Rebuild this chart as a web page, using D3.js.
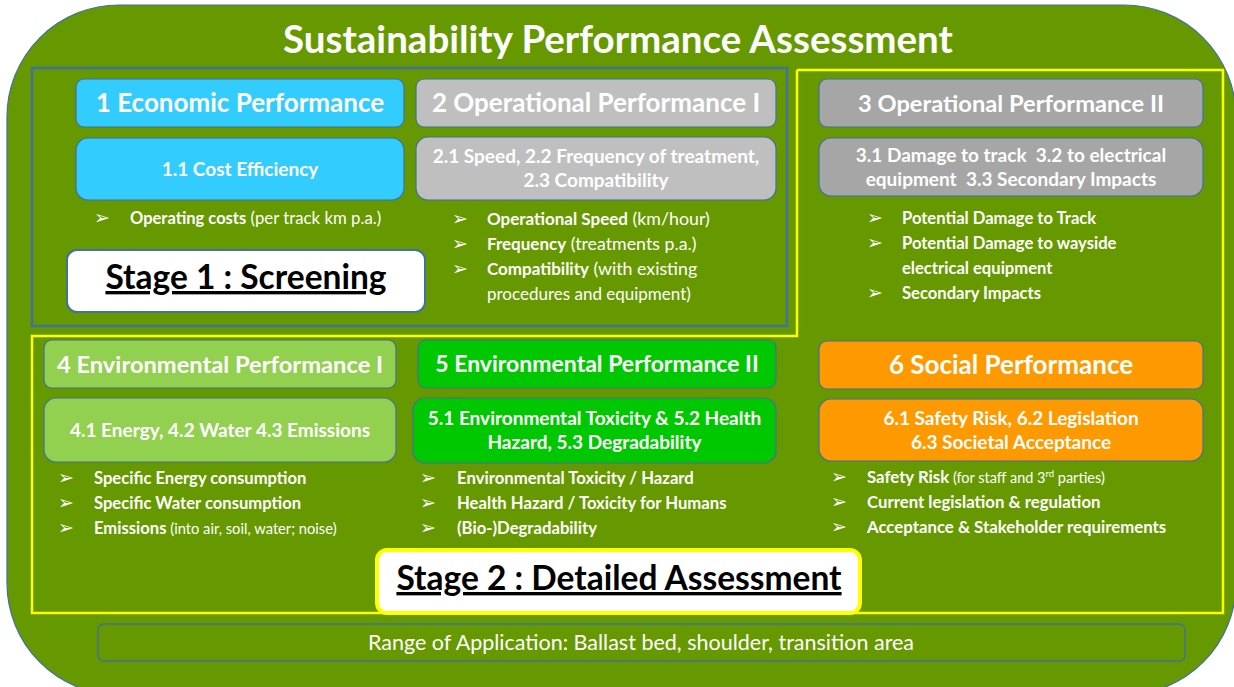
<!DOCTYPE html>
<html>
<head>
<meta charset="utf-8">
<script src="https://cdn.jsdelivr.net/npm/d3@7"></script>
<style>
  body { margin: 0; background: #fff; }
  svg text { font-family: Lato, "Open Sans", sans-serif; white-space: pre; }
</style>
</head>
<body>
<div id="diagram"></div>
<script>
var title = "Sustainability Performance Assessment";

var headers = ["1 Economic Performance", "2 Operational Performance I", "3 Operational Performance II",
               "4 Environmental Performance I", "5 Environmental Performance II", "6 Social Performance"];

var subtitles = [
  ["1.1 Cost Efficiency"],
  ["2.1 Speed, 2.2 Frequency of treatment,", "2.3 Compatibility"],
  ["3.1 Damage to track  3.2 to electrical", "equipment  3.3 Secondary Impacts"],
  ["4.1 Energy, 4.2 Water 4.3 Emissions"],
  ["5.1 Environmental Toxicity & 5.2 Health", "Hazard, 5.3 Degradability"],
  ["6.1 Safety Risk, 6.2 Legislation", "6.3 Societal Acceptance"]
];

// each bullet line: [bold part, normal part, superscript, normal after, continuation line?]
var bullets = [
  [["Operating costs", " (per track km p.a.)"]],
  [["Operational Speed", " (km/hour)"], ["Frequency", " (treatments p.a.)"],
   ["Compatibility", " (with existing"], ["", "procedures and equipment)", null, null, true]],
  [["Potential Damage to Track", ""], ["Potential Damage to wayside", ""],
   ["electrical equipment", "", null, null, true], ["Secondary Impacts", ""]],
  [["Specific Energy consumption", ""], ["Specific Water consumption", ""],
   ["Emissions", " (into air, soil, water; noise)"]],
  [["Environmental Toxicity / Hazard", ""], ["Health Hazard / Toxicity for Humans", ""],
   ["(Bio-)Degradability", ""]],
  [["Safety Risk", " (for staff and 3", "rd", " parties)"], ["Current legislation & regulation", ""],
   ["Acceptance & Stakeholder requirements", ""]]
];

var stages = ["Stage 1 : Screening", "Stage 2 : Detailed Assessment"];
var rangeText = "Range of Application: Ballast bed, shoulder, transition area";

var fills = ["#33ccff", "#bfbfbf", "#a6a6a6", "#92d050", "#00c800", "#ff9900"];

// layout of the six columns (header box, sub box, bullet block, font sizes)
var layout = [
  {x0: 76,  x1: 404, hy: 79,  sy: 138, sh: 62, by: 224, ax: 102, tx: 130, hfs: 26,   fs: 16.5, ps: 16.8},
  {x0: 416, x1: 776, hy: 79,  sy: 137, sh: 63, by: 225, ax: 460, tx: 487, hfs: 26,   fs: 17,   ps: 17.8},
  {x0: 819, x1: 1203, hy: 79, sy: 138, sh: 58, by: 224, ax: 875, tx: 902, hfs: 23.7, fs: 16.6, ps: 16.6},
  {x0: 44,  x1: 396, hy: 340, sy: 398, sh: 64, by: 484, ax: 66,  tx: 94,  hfs: 23.7, fs: 16.6, ps: 14.7},
  {x0: 418, x1: 776, hy: 340, sy: 398, sh: 65, by: 484, ax: 428, tx: 457, hfs: 23,   fs: 16.7, ps: 14.7, sx0: 413},
  {x0: 819, x1: 1203, hy: 341, sy: 399, sh: 62, by: 483, ax: 839, tx: 867, hfs: 26,   fs: 16.8, ps: 14.5}
];

var W = 1234, H = 687;
var svg = d3.select("#diagram").append("svg")
  .attr("width", W).attr("height", H);

var blue = "#41719c";

// outer rounded panel
svg.append("rect")
  .attr("x", 7).attr("y", 5).attr("width", 1229).attr("height", 690)
  .attr("rx", 112).attr("ry", 112)
  .attr("fill", "#669900").attr("stroke", blue).attr("stroke-width", 1.2);

svg.append("text")
  .attr("x", 618).attr("y", 53)
  .attr("text-anchor", "middle")
  .attr("fill", "#fff").attr("font-weight", "bold").attr("font-size", 38.5)
  .text(title);

// stage 1 frame (blue)
svg.append("rect")
  .attr("x", 32).attr("y", 68).attr("width", 755).attr("height", 258)
  .attr("fill", "none").attr("stroke", blue).attr("stroke-width", 2.5);

// stage 2 frame (yellow, L-shaped)
svg.append("path")
  .attr("d", d3.line()([[797, 70], [1223, 70], [1223, 613], [32, 613], [32, 336], [797, 336], [797, 70]]))
  .attr("fill", "none").attr("stroke", "#ffff00").attr("stroke-width", 2.5);

// boxes
layout.forEach(function(L, i) {
  var g = svg.append("g");
  g.append("rect")
    .attr("x", L.x0).attr("y", L.hy).attr("width", L.x1 - L.x0).attr("height", 48)
    .attr("rx", 8).attr("fill", fills[i]).attr("stroke", blue).attr("stroke-width", 1.2);
  g.append("text")
    .attr("x", (L.x0 + L.x1) / 2).attr("y", L.hy + 24 + L.hfs * 0.36)
    .attr("text-anchor", "middle").attr("fill", "#fff")
    .attr("font-weight", "bold").attr("font-size", L.hfs)
    .text(headers[i]);

  var sx0 = L.sx0 || L.x0;
  g.append("rect")
    .attr("x", sx0).attr("y", L.sy).attr("width", L.x1 - sx0).attr("height", L.sh)
    .attr("rx", 12).attr("fill", fills[i]).attr("stroke", blue).attr("stroke-width", 1.2);
  var lines = subtitles[i];
  var cy = L.sy + L.sh / 2;
  lines.forEach(function(t, j) {
    g.append("text")
      .attr("x", (sx0 + L.x1) / 2)
      .attr("y", cy + 6.5 + (j - (lines.length - 1) / 2) * 24)
      .attr("text-anchor", "middle").attr("fill", "#fff")
      .attr("font-weight", "bold").attr("font-size", 19)
      .text(t);
  });

  bullets[i].forEach(function(b, j) {
    var y = L.by + j * 25;
    if (!b[4]) {
      g.append("text")
        .attr("x", L.ax).attr("y", y)
        .attr("text-anchor", "middle").attr("fill", "#fff")
        .attr("font-family", "DejaVu Sans").attr("font-size", 19)
        .text("\u27a2");
    }
    var t = g.append("text")
      .attr("x", L.tx).attr("y", y)
      .attr("fill", "#fff").attr("font-size", L.fs);
    if (b[0]) t.append("tspan").attr("font-weight", "bold").text(b[0]);
    if (b[1]) t.append("tspan").attr("font-size", b[4] ? L.fs : L.ps).text(b[1]);
    if (b[2]) t.append("tspan").attr("font-size", 9.5).attr("dy", -6).text(b[2]);
    if (b[3]) t.append("tspan").attr("font-size", L.ps).attr("dy", 6).text(b[3]);
  });
});

// stage labels
function stageBox(x, y, w, h, stroke, sw, label, cx, base) {
  svg.append("rect")
    .attr("x", x).attr("y", y).attr("width", w).attr("height", h)
    .attr("rx", 10).attr("fill", "#fff").attr("stroke", stroke).attr("stroke-width", sw);
  svg.append("text")
    .attr("x", cx).attr("y", base)
    .attr("text-anchor", "middle").attr("fill", "#000")
    .attr("font-weight", "bold").attr("font-size", 33.5)
    .attr("text-decoration", "underline")
    .text(label);
}
stageBox(67, 250, 358, 62, blue, 2, stages[0], 246, 289);
stageBox(377, 550, 483, 63, "#ffff00", 4, stages[1], 619, 590);

// range of application
svg.append("rect")
  .attr("x", 98).attr("y", 624).attr("width", 1087).attr("height", 37)
  .attr("rx", 6).attr("fill", "none").attr("stroke", blue).attr("stroke-width", 1.5);
svg.append("text")
  .attr("x", 641).attr("y", 650)
  .attr("text-anchor", "middle").attr("fill", "#fff").attr("font-size", 21.5)
  .text(rangeText);
</script>
</body>
</html>
